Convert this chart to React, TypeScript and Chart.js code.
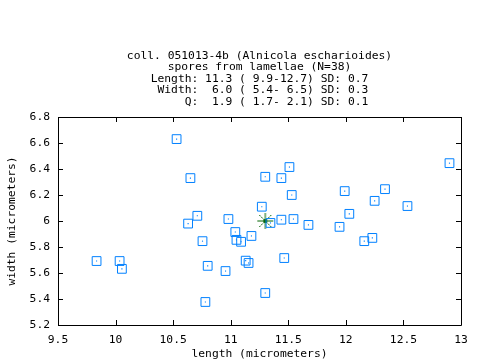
import { useEffect, useRef } from "react";
import { Chart, registerables } from "chart.js";

Chart.register(...registerables);

const titleLines = [
  "coll. 051013-4b (Alnicola escharioides)",
  "spores from lamellae (N=38)",
  "Length: 11.3 ( 9.9-12.7) SD: 0.7",
  " Width:  6.0 ( 5.4- 6.5) SD: 0.3",
  "     Q:  1.9 ( 1.7- 2.1) SD: 0.1",
];

const sporeLength = [
  10.65, 11.3, 11.44, 11.51, 11.53, 11.27, 10.71, 10.63, 10.98, 11.345,
  11.44, 11.545, 11.675, 11.04, 11.05, 11.09, 11.18, 10.755, 11.13, 11.155,
  11.465, 10.8, 10.955, 12.9, 12.34, 11.99, 12.25, 12.535, 12.03, 11.945,
  12.23, 12.16, 9.835, 10.035, 10.055, 10.78, 10.53, 11.3,
];

const sporeWidth = [
  6.33, 6.34, 6.33, 6.415, 6.2, 6.11, 6.04, 5.98, 6.015, 5.985,
  6.01, 6.015, 5.97, 5.915, 5.855, 5.84, 5.885, 5.845, 5.695, 5.677,
  5.715, 5.655, 5.615, 6.445, 6.245, 6.23, 6.155, 6.115, 6.055, 5.955,
  5.87, 5.845, 5.692, 5.692, 5.632, 5.377, 6.63, 5.446,
];

const meanLength = [11.3];
const meanWidth = [6.0];

const xMin = 9.5;
const xMax = 13;
const xStep = 0.5;
const yMin = 5.2;
const yMax = 6.8;
const yStep = 0.2;

const FONT = "'DejaVu Sans Mono', 'Liberation Mono', monospace";
const FS = 11.3;

function makeStar(): HTMLCanvasElement {
  const c = document.createElement("canvas");
  c.width = 18;
  c.height = 18;
  const g = c.getContext("2d")!;
  g.strokeStyle = "#006400";
  g.lineWidth = 1;
  g.beginPath();
  g.moveTo(1, 9);
  g.lineTo(17, 9);
  g.moveTo(9, 1);
  g.lineTo(9, 17);
  g.stroke();
  g.setLineDash([2, 1]);
  g.beginPath();
  g.moveTo(3, 3);
  g.lineTo(15, 15);
  g.moveTo(15, 3);
  g.lineTo(3, 15);
  g.stroke();
  g.fillStyle = "#006400";
  g.beginPath();
  g.arc(9, 9, 2, 0, Math.PI * 2);
  g.fill();
  return c;
}

const framePlugin = {
  id: "frame",
  afterDatasetsDraw(chart: any) {
    const { ctx, chartArea } = chart;
    const { left, right, top, bottom } = chartArea;
    const xs = chart.scales.x;
    const ys = chart.scales.y;
    ctx.save();
    ctx.strokeStyle = "#000";
    ctx.lineWidth = 1;
    ctx.beginPath();
    ctx.rect(Math.round(left) + 0.5, Math.round(top) + 0.5, Math.round(right - left), Math.round(bottom - top));
    ctx.stroke();
    const tl = 5;
    ctx.beginPath();
    xs.ticks.forEach((t: any) => {
      const px = Math.round(xs.getPixelForValue(t.value)) + 0.5;
      ctx.moveTo(px, bottom);
      ctx.lineTo(px, bottom - tl);
      ctx.moveTo(px, top);
      ctx.lineTo(px, top + tl);
    });
    ys.ticks.forEach((t: any) => {
      const py = Math.round(ys.getPixelForValue(t.value)) + 0.5;
      ctx.moveTo(left, py);
      ctx.lineTo(left + tl, py);
      ctx.moveTo(right, py);
      ctx.lineTo(right - tl, py);
    });
    ctx.stroke();
    ctx.restore();
  },
};

const fmt = (v: any) => String(Math.round(Number(v) * 10) / 10);

export default function App() {
  const ref = useRef<HTMLCanvasElement | null>(null);

  useEffect(() => {
    document.body.style.margin = "0";
    const canvas = ref.current;
    if (!canvas) return;
    const star = makeStar();
    const chart = new Chart(canvas, {
      type: "scatter",
      data: {
        datasets: [
          {
            label: "spores",
            data: sporeLength.map((x, i) => ({ x, y: sporeWidth[i] })),
            pointStyle: "rect",
            pointRadius: 6.2,
            pointBorderWidth: 1,
            pointBorderColor: "#0080ff",
            pointBackgroundColor: "rgba(0,0,0,0)",
          },
          {
            label: "centres",
            data: sporeLength.map((x, i) => ({ x, y: sporeWidth[i] })),
            pointStyle: "rect",
            pointRadius: 0.8,
            pointBorderWidth: 0,
            pointBackgroundColor: "#0080ff",
          },
          {
            label: "mean",
            data: meanLength.map((x, i) => ({ x, y: meanWidth[i] })),
            pointStyle: star as any,
            pointRadius: 9,
          },
        ],
      },
      options: {
        animation: false,
        responsive: false,
        events: [],
        layout: { padding: { left: 0, right: 19, top: 0, bottom: 0 } },
        plugins: {
          legend: { display: false },
          tooltip: { enabled: false },
          title: {
            display: true,
            fullSize: false,
            text: titleLines,
            color: "#000",
            font: { family: FONT, size: FS, weight: "normal", lineHeight: "11.5px" },
            padding: { top: 50, bottom: 9.5 },
          },
        },
        scales: {
          x: {
            type: "linear",
            min: xMin,
            max: xMax,
            grid: { display: false, drawTicks: false },
            border: { display: false },
            ticks: {
              stepSize: xStep,
              color: "#000",
              padding: 8,
              maxRotation: 0,
              autoSkip: false,
              font: { family: FONT, size: FS },
              callback: fmt,
            },
            title: {
              display: true,
              text: "length (micrometers)",
              color: "#000",
              font: { family: FONT, size: FS, lineHeight: "12px" },
              padding: { top: 0, bottom: 0 },
            },
            afterFit: (s: any) => {
              s.height = 35;
            },
          },
          y: {
            type: "linear",
            min: yMin,
            max: yMax,
            grid: { display: false, drawTicks: false },
            border: { display: false },
            ticks: {
              stepSize: yStep,
              color: "#000",
              padding: 8,
              autoSkip: false,
              font: { family: FONT, size: FS },
              callback: fmt,
            },
            title: {
              display: true,
              text: "width (micrometers)",
              color: "#000",
              font: { family: FONT, size: FS, lineHeight: "12px" },
              padding: { top: 6, bottom: 0 },
            },
            afterFit: (s: any) => {
              s.width = 58;
            },
          },
        },
      },
      plugins: [framePlugin],
    });
    return () => chart.destroy();
  }, []);

  return (
    <div style={{ width: 480, height: 360, background: "#fff" }}>
      <canvas ref={ref} width={480} height={360} style={{ display: "block" }} />
    </div>
  );
}
